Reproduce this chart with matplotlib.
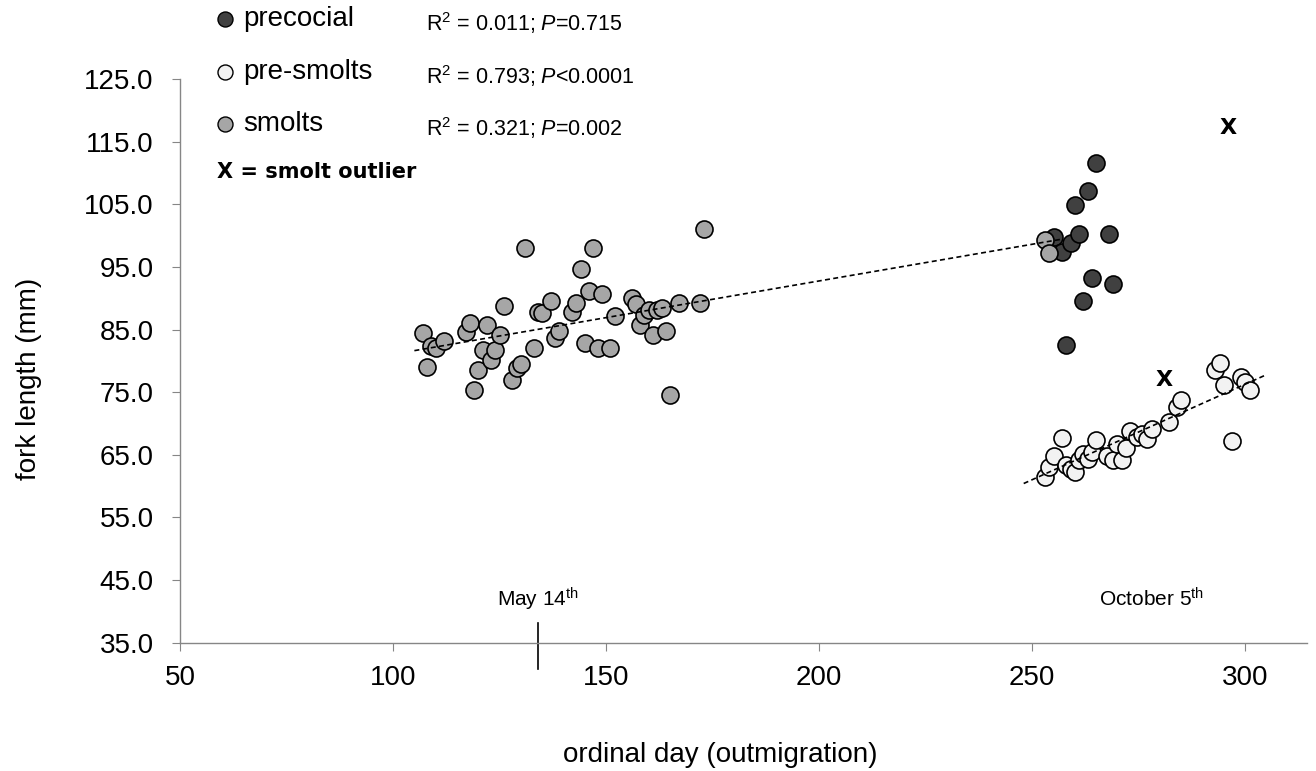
import numpy as np
import matplotlib.pyplot as plt
from matplotlib.lines import Line2D

plt.rcParams['font.family'] = ['Liberation Sans', 'DejaVu Sans']
plt.rcParams['mathtext.fontset'] = 'custom'
plt.rcParams['mathtext.rm'] = 'Liberation Sans'
plt.rcParams['mathtext.it'] = 'Liberation Sans:italic'

#'smolts'
smolt_day = np.asarray([107, 108, 109, 110, 112, 119, 117, 118, 120, 121, 122, 123, 124, 125, 126,
                        128, 129, 130, 131, 133, 134, 135, 137, 138, 139, 142, 143, 144, 145, 146,
                        147, 148, 149, 151, 152, 156, 157, 158, 159, 160, 161, 162, 163, 164, 165,
                        167, 172, 173, 253, 254])
smolt_fl = np.asarray([84.5, 79.0, 82.3, 82.0, 83.2, 75.4, 84.6, 86.0, 78.5, 81.8, 85.8, 80.1, 81.7, 84.1, 88.8,
                       77.0, 78.8, 79.5, 98.1, 82.1, 87.8, 87.7, 89.5, 83.6, 84.7, 87.8, 89.2, 94.6, 82.9, 91.1,
                       98.1, 82.1, 90.6, 82.1, 87.1, 90.0, 89.1, 85.7, 87.3, 88.2, 84.1, 88.1, 88.4, 84.8, 74.6,
                       89.2, 89.2, 101.1, 99.3, 97.2])

#'precocial'
precocial_day = np.asarray([255, 257, 259, 261, 260, 263, 265, 268, 264, 269, 262, 258])
precocial_fl = np.asarray([99.8, 97.4, 98.8, 100.2, 104.9, 107.2, 111.6, 100.2, 93.2, 92.2, 89.6, 82.6])

#'pre-smolts'
presmolt_day = np.asarray([253, 254, 255, 257, 258, 259, 260, 261, 262, 263, 264, 265, 267.5, 269, 270, 271,
                           272, 273, 274.6, 275.7, 277, 278, 282, 284, 285, 293, 294, 295, 297, 299, 300, 301])
presmolt_fl = np.asarray([61.5, 63.1, 64.8, 67.7, 63.3, 62.7, 62.3, 64.1, 65.2, 64.4, 65.5, 67.4, 64.8, 64.2, 66.8, 64.2,
                          66.1, 68.8, 67.9, 68.4, 67.6, 69.2, 70.3, 72.6, 73.7, 78.5, 79.6, 76.1, 67.2, 77.4, 76.6, 75.4])

# smolt outliers (X)
outlier_day = [296, 281]
outlier_fl = [117.2, 76.9]

labels = ['precocial', 'pre-smolts', 'smolts']
stats = [r'R$^2$ = 0.011; $\mathit{P}$=0.715',
         r'R$^2$ = 0.793; $\mathit{P}$<$\mathit{0.0001}$',
         r'R$^2$ = 0.321; $\mathit{P}$=0.002']
colors = ['#404040', '#f2f2f2', '#a6a6a6']

fig = plt.figure(figsize=(13.16, 7.71), dpi=100)
ax = fig.add_axes([0.1368, 0.1664, 0.8564, 0.7311])

ax.scatter(precocial_day, precocial_fl, s=150, c=colors[0], edgecolors='black', linewidths=1.2, zorder=2)
ax.scatter(presmolt_day, presmolt_fl, s=150, c=colors[1], edgecolors='black', linewidths=1.2, zorder=2)
ax.scatter(smolt_day, smolt_fl, s=150, c=colors[2], edgecolors='black', linewidths=1.2, zorder=2)

# trendlines
for xs, ys, ext in [(smolt_day, smolt_fl, (2, 3)), (presmolt_day, presmolt_fl, (5, 4))]:
    k, b = np.polyfit(xs, ys, 1)
    xx = np.array([xs.min() - ext[0], xs.max() + ext[1]])
    ax.plot(xx, k * xx + b, color='black', linestyle=(0, (3, 2)), linewidth=1.2, zorder=3)

for d, f in zip(outlier_day, outlier_fl):
    ax.text(d, f, 'X', ha='center', va='center', fontsize=16, fontweight='heavy',
            family='DejaVu Sans', zorder=4)

# date marks
may_day = 134
oct_day = 278
ax.plot([may_day, may_day], [0.035, -0.046], color='black', linewidth=1.2,
        transform=ax.get_xaxis_transform(), clip_on=False)
ax.text(may_day, 0.064, r'May 14$^{\mathrm{th}}$', ha='center', va='baseline', fontsize=15,
        transform=ax.get_xaxis_transform())
ax.text(oct_day, 0.064, r'October 5$^{\mathrm{th}}$', ha='center', va='baseline', fontsize=15,
        transform=ax.get_xaxis_transform())

ax.set_xlim(50, 314.5)
ax.set_ylim(35, 125)
ax.set_xticks([50, 100, 150, 200, 250, 300])
ax.set_yticks(np.arange(35, 126, 10))
ax.set_yticklabels(['%.1f' % v for v in np.arange(35, 126, 10)])
for s in ['top', 'right']:
    ax.spines[s].set_visible(False)
for s in ['left', 'bottom']:
    ax.spines[s].set_color('#868686')
    ax.spines[s].set_linewidth(1.0)
ax.tick_params(axis='both', colors='#868686', labelcolor='black', labelsize=20, length=6, width=0.8)
ax.tick_params(axis='y', pad=13)
ax.tick_params(axis='x', pad=10)

fig.text(720 / 1316, 1 - 762 / 771, 'ordinal day (outmigration)', ha='center', va='baseline', fontsize=20)
fig.text(29 / 1316, 1 - 379 / 771, 'fork length (mm)', ha='center', va='center', rotation=90, fontsize=20)

# legend
leg_y = [19, 72, 124]
for i in range(3):
    y = 1 - leg_y[i] / 771
    fig.add_artist(Line2D([225 / 1316], [y], marker='o', markersize=10.8, markerfacecolor=colors[i],
                          markeredgecolor='black', markeredgewidth=1.0, linestyle='none'))
    fig.text(243 / 1316, y, labels[i], ha='left', va='center', fontsize=20)
    fig.text(426 / 1316, y - 4 / 771, stats[i], ha='left', va='center', fontsize=15.5)
fig.text(217 / 1316, 1 - 172 / 771, 'X = smolt outlier', ha='left', va='center', fontsize=15,
         fontweight='heavy', family='DejaVu Sans')

plt.savefig('out.png', dpi=100)
